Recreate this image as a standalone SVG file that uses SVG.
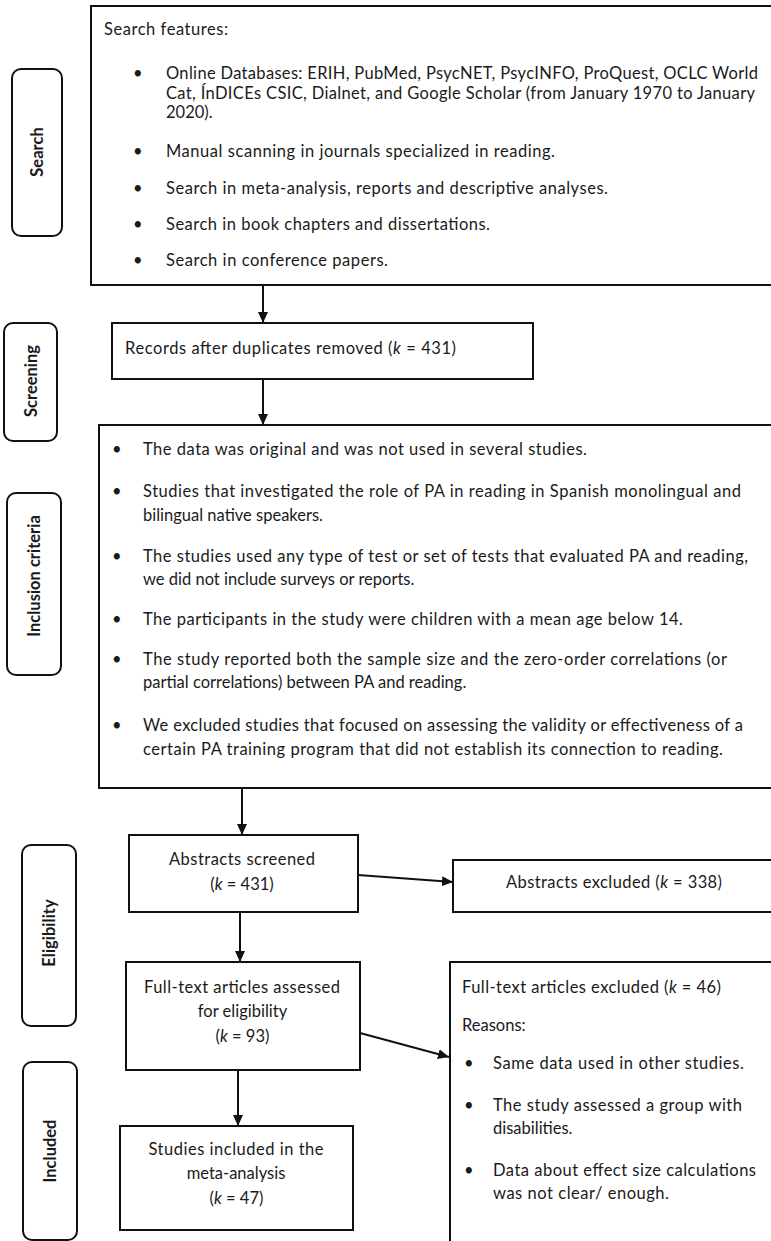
<svg xmlns="http://www.w3.org/2000/svg" width="771" height="1241" viewBox="0 0 771 1241">
<style>
  .box { fill: #ffffff; stroke: #111111; stroke-width: 2; }
  .lbl { fill: #ffffff; stroke: #111111; stroke-width: 2; }
  .t { font-family: Lato, "Liberation Sans", sans-serif; font-size: 16.5px; fill: #1a1a1a; }
  .c { text-anchor: middle; }
  .lt { font-family: Lato, "Liberation Sans", sans-serif; font-size: 16.5px; font-weight: bold; fill: #1a1a1a; text-anchor: middle; }
  .conn { stroke: #111111; stroke-width: 2; fill: none; marker-end: url(#arr); }
  .i { font-style: italic; }
</style>
<defs>
  <marker id="arr" markerUnits="userSpaceOnUse" markerWidth="11" markerHeight="10" refX="11" refY="5" orient="auto">
    <path d="M0,0 L11,5 L0,10 Z" fill="#111111"/>
  </marker>
</defs>
<rect x="0" y="0" width="771" height="1241" fill="#ffffff"/>

<g id="label-search">
  <rect class="lbl" x="12" y="69" width="50" height="167" rx="9"/>
  <text class="lt" transform="translate(37,152) rotate(-90)" y="6">Search</text>
</g>
<g id="label-screening">
  <rect class="lbl" x="4" y="323" width="53" height="118" rx="9"/>
  <text class="lt" transform="translate(30.5,381) rotate(-90)" y="6">Screening</text>
</g>
<g id="label-inclusion">
  <rect class="lbl" x="7" y="493" width="54" height="182" rx="9"/>
  <text class="lt" transform="translate(34,576) rotate(-90)" y="6">Inclusion criteria</text>
</g>
<g id="label-eligibility">
  <rect class="lbl" x="22" y="845" width="54" height="181" rx="9"/>
  <text class="lt" transform="translate(49,933) rotate(-90)" y="6">Eligibility</text>
</g>
<g id="label-included">
  <rect class="lbl" x="23" y="1062" width="54" height="178" rx="9"/>
  <text class="lt" transform="translate(50,1151) rotate(-90)" y="6">Included</text>
</g>

<g id="search-features">
  <rect class="box" x="91" y="6" width="700" height="279"/>
  <text class="t" x="104" y="35" textLength="124">Search features:</text>
  <text class="t" x="133" y="79">•</text>
  <text class="t" x="166" y="79" textLength="592">Online Databases: ERIH, PubMed, PsycNET, PsycINFO, ProQuest, OCLC World</text>
  <text class="t" x="166" y="99" textLength="589">Cat, ÍnDICEs CSIC, Dialnet, and Google Scholar (from January 1970 to January</text>
  <text class="t" x="166" y="118">2020).</text>
  <text class="t" x="133" y="157">•</text>
  <text class="t" x="166" y="157" textLength="389">Manual scanning in journals specialized in reading.</text>
  <text class="t" x="133" y="194">•</text>
  <text class="t" x="166" y="194" textLength="442">Search in meta-analysis, reports and descriptive analyses.</text>
  <text class="t" x="133" y="230">•</text>
  <text class="t" x="166" y="230" textLength="324">Search in book chapters and dissertations.</text>
  <text class="t" x="133" y="266">•</text>
  <text class="t" x="166" y="266" textLength="222">Search in conference papers.</text>
</g>

<g id="screening">
  <rect class="box" x="112" y="323" width="421" height="56"/>
  <text class="t" x="125" y="354" textLength="331">Records after duplicates removed (<tspan class="i">k</tspan> = 431)</text>
</g>

<g id="inclusion-criteria">
  <rect class="box" x="99" y="425" width="700" height="363"/>
  <text class="t" x="112" y="455">•</text>
  <text class="t" x="143" y="455" textLength="444">The data was original and was not used in several studies.</text>
  <text class="t" x="112" y="497">•</text>
  <text class="t" x="143" y="497" textLength="598">Studies that investigated the role of PA in reading in Spanish monolingual and</text>
  <text class="t" x="143" y="521">bilingual native speakers.</text>
  <text class="t" x="112" y="562">•</text>
  <text class="t" x="143" y="562" textLength="605">The studies used any type of test or set of tests that evaluated PA and reading,</text>
  <text class="t" x="143" y="585">we did not include surveys or reports.</text>
  <text class="t" x="112" y="625">•</text>
  <text class="t" x="143" y="625" textLength="540">The participants in the study were children with a mean age below 14.</text>
  <text class="t" x="112" y="665">•</text>
  <text class="t" x="143" y="665" textLength="584">The study reported both the sample size and the zero-order correlations (or</text>
  <text class="t" x="143" y="688">partial correlations) between PA and reading.</text>
  <text class="t" x="112" y="731">•</text>
  <text class="t" x="143" y="731" textLength="600">We excluded studies that focused on assessing the validity or effectiveness of a</text>
  <text class="t" x="143" y="755" textLength="580">certain PA training program that did not establish its connection to reading.</text>
</g>

<g id="abstracts-screened">
  <rect class="box" x="129" y="835" width="229" height="77"/>
  <text class="t c" x="242" y="865" textLength="146">Abstracts screened</text>
  <text class="t c" x="242" y="890">(<tspan class="i">k</tspan> = 431)</text>
</g>

<g id="abstracts-excluded">
  <rect class="box" x="453" y="860" width="340" height="52"/>
  <text class="t" x="506" y="888" textLength="216">Abstracts excluded (<tspan class="i">k</tspan> = 338)</text>
</g>

<g id="fulltext-assessed">
  <rect class="box" x="126" y="962" width="234" height="108"/>
  <text class="t c" x="242" y="993" textLength="196">Full-text articles assessed</text>
  <text class="t c" x="242.5" y="1017">for eligibility</text>
  <text class="t c" x="242.5" y="1042">(<tspan class="i">k</tspan> = 93)</text>
</g>

<g id="fulltext-excluded">
  <rect class="box" x="450" y="962" width="340" height="300"/>
  <text class="t" x="462" y="993" textLength="259">Full-text articles excluded (<tspan class="i">k</tspan> = 46)</text>
  <text class="t" x="462" y="1031">Reasons:</text>
  <text class="t" x="464" y="1069">•</text>
  <text class="t" x="493" y="1069" textLength="251">Same data used in other studies.</text>
  <text class="t" x="464" y="1111">•</text>
  <text class="t" x="493" y="1111" textLength="249">The study assessed a group with</text>
  <text class="t" x="493" y="1134">disabilities.</text>
  <text class="t" x="464" y="1176">•</text>
  <text class="t" x="493" y="1176" textLength="263">Data about effect size calculations</text>
  <text class="t" x="493" y="1199" textLength="176">was not clear/ enough.</text>
</g>

<g id="studies-included">
  <rect class="box" x="120" y="1126" width="233" height="104"/>
  <text class="t c" x="236" y="1155" textLength="175">Studies included in the</text>
  <text class="t c" x="236" y="1179">meta-analysis</text>
  <text class="t c" x="236.5" y="1204">(<tspan class="i">k</tspan> = 47)</text>
</g>

<g id="connectors">
  <line class="conn" x1="263" y1="285" x2="263" y2="323"/>
  <line class="conn" x1="263" y1="379" x2="263" y2="425"/>
  <line class="conn" x1="242" y1="788" x2="242" y2="835"/>
  <line class="conn" x1="240" y1="912" x2="240" y2="962"/>
  <line class="conn" x1="238" y1="1070" x2="238" y2="1126"/>
  <line class="conn" x1="358" y1="875" x2="453" y2="882"/>
  <line class="conn" x1="360" y1="1033" x2="449" y2="1057"/>
</g>
</svg>
